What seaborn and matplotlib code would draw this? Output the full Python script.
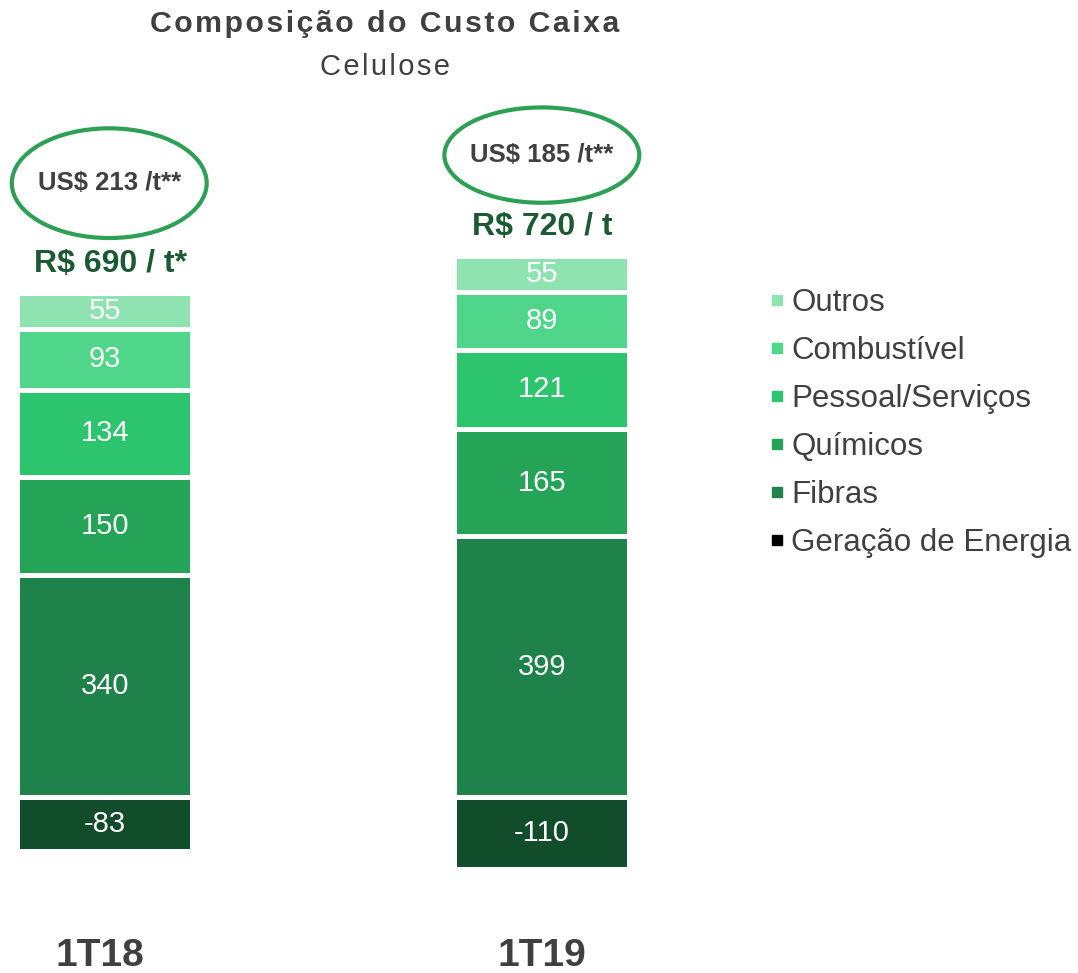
import numpy as np
import matplotlib
matplotlib.use("Agg")
import matplotlib.pyplot as plt
import seaborn as sns
from matplotlib.patches import Ellipse
from matplotlib.lines import Line2D

periods = ["1T18", "1T19"]
components = ["Outros", "Combustível", "Pessoal/Serviços", "Químicos", "Fibras", "Geração de Energia"]
outros = [55, 55]
combustivel = [93, 89]
pessoal = [134, 121]
quimicos = [150, 165]
fibras = [340, 399]
geracao = [-83, -110]
totals_brl = ["R$ 690 / t*", "R$ 720 / t"]
totals_usd = ["US$ 213 /t**", "US$ 185 /t**"]

colors = {
    "Outros": "#8fe3b0",
    "Combustível": "#50d68a",
    "Pessoal/Serviços": "#2dc46e",
    "Químicos": "#25a458",
    "Fibras": "#1e824a",
    "Geração de Energia": "#124d2b",
}

sns.set_theme(style="white")
plt.rcParams["font.family"] = ["Liberation Sans", "DejaVu Sans"]

fig = plt.figure(figsize=(10.78, 9.73), dpi=100)
ax = fig.add_axes([0, 0, 1, 1])

# stack from bottom up, negative one on its own below zero
stack = [("Fibras", fibras), ("Químicos", quimicos), ("Pessoal/Serviços", pessoal),
         ("Combustível", combustivel), ("Outros", outros)]
bottom = np.zeros(len(periods))
for name, vals in stack:
    vals = np.array(vals, dtype=float)
    sns.barplot(x=periods, y=vals, bottom=bottom, color=colors[name], saturation=1,
                width=0.40, edgecolor="white", linewidth=3.6, ax=ax)
    for i, v in enumerate(vals):
        ax.text(i, bottom[i] + v / 2, f"{v:.0f}", ha="center", va="center",
                color="white", fontsize=21)
    bottom += vals
tops = bottom.copy()

neg = np.array(geracao, dtype=float)
sns.barplot(x=periods, y=neg, color=colors["Geração de Energia"], saturation=1,
            width=0.40, edgecolor="white", linewidth=3.6, ax=ax)
for i, v in enumerate(neg):
    ax.text(i, v / 2, f"{v:.0f}", ha="center", va="center", color="white", fontsize=21)

# totals above bars
ell_y = [940, 983]
ell_h = [168, 146]
for i in range(len(periods)):
    ax.text(i + 0.014 * (1 - i), tops[i] + 44, totals_brl[i], ha="center", va="center",
            color="#1b5a33", fontsize=23, fontweight="bold")
    ax.add_patch(Ellipse((i + 0.01 * (1 - i), ell_y[i]), 0.446, ell_h[i], fill=False,
                         edgecolor="#2ea055", linewidth=3))
    ax.text(i + 0.01 * (1 - i), ell_y[i], totals_usd[i], ha="center", va="center",
            color="#404040", fontsize=18.5, fontweight="bold")
    ax.text(i - 0.012 * (1 - i), -243, periods[i], ha="center", va="center", color="#404040",
            fontsize=28, fontweight="bold")

ax.set_xlim(-0.240, 2.227)
ax.set_ylim(-269.5, 1220.5)
ax.axis("off")

# hair spaces to mimic the letter-spaced heading
spaced = "\u200a".join
fig.text(0.357, 0.975, spaced("Composição do Custo Caixa"), ha="center", va="center",
         color="#404040", fontsize=21.8, fontweight="bold")
fig.text(0.357, 0.931, spaced("Celulose"), ha="center", va="center", color="#404040", fontsize=21)

handles = [Line2D([], [], marker="s", linestyle="", markersize=7,
                  color=(colors[c] if c != "Geração de Energia" else "black"))
           for c in components]
leg = fig.legend(handles, components, loc="upper left", bbox_to_anchor=(0.7137, 0.7045),
                 frameon=False, fontsize=22.5, handlelength=0.5, handletextpad=0.2,
                 labelspacing=0.58, borderaxespad=0, borderpad=0)
for t in leg.get_texts():
    t.set_color("#404040")

fig.savefig("out.png", dpi=100)
